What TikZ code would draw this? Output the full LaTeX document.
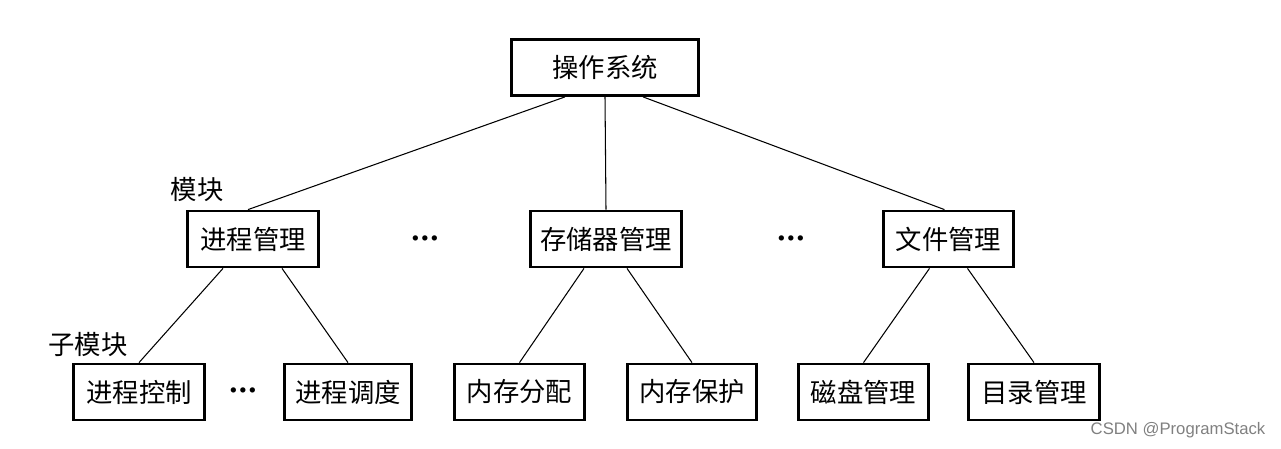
\documentclass[tikz,border=0pt]{standalone}
\usepackage{fontspec}
\setmainfont{Noto Sans CJK SC}
\newfontfamily\wmfont{Liberation Sans}
\usetikzlibrary{calc}

\begin{document}
\begin{tikzpicture}[x=0.02cm, y=-0.02cm,
    box/.style={draw, line width=1.6pt, minimum height=1.12cm, inner sep=0pt,
                font=\fontsize{15}{15}\selectfont},
    conn/.style={line width=0.6pt},
    tag/.style={font=\fontsize{15}{15}\selectfont},
    more/.style={font=\fontsize{7}{8}\selectfont}]
\useasboundingbox (0,0) rectangle (1281,449);

% top
\node[box, minimum width=3.74cm] (os) at (605,67.5) {操作系统};

% modules
\node[box, minimum width=2.62cm] (proc) at (253,239) {进程管理};
\node[box, minimum width=3.02cm] (mem) at (606,239) {存储器管理};
\node[box, minimum width=2.60cm] (file) at (948.5,239) {文件管理};
	\node[more] (dotsa) at (425,239) {${\bullet}\mkern3mu{\bullet}\mkern3mu{\bullet}$};
	\node[more] (dotsb) at (791,239) {${\bullet}\mkern3mu{\bullet}\mkern3mu{\bullet}$};
	\node[tag] (lmod) at (197,190) {模块};

% sub-modules
\node[box, minimum width=2.62cm] (pctl) at (139,392) {进程控制};
\node[box, minimum width=2.54cm] (psch) at (348,392) {进程调度};
\node[box, minimum width=2.60cm] (malloc) at (519.5,392) {内存分配};
\node[box, minimum width=2.58cm] (mprot) at (692,392) {内存保护};
\node[box, minimum width=2.60cm] (disk) at (863.5,392) {磁盘管理};
\node[box, minimum width=2.62cm] (dir) at (1034,392) {目录管理};
	\node[more] (dotsc) at (243,391) {${\bullet}\mkern3mu{\bullet}\mkern3mu{\bullet}$};
	\node[tag] (lsub) at (88,345) {子模块};

% connectors
\draw[conn] ($(os.south)+(-40,0)$) -- ($(proc.north)+(-5,0)$);
\draw[conn] (os.south) -- (mem.north);
\draw[conn] ($(os.south)+(38,0)$) -- ($(file.north)+(-4,0)$);

\draw[conn] ($(proc.south)+(-30,0)$) -- (pctl.north);
\draw[conn] ($(proc.south)+(29,0)$) -- (psch.north);
\draw[conn] ($(mem.south)+(-22,0)$) -- (malloc.north);
\draw[conn] ($(mem.south)+(21,0)$) -- (mprot.north);
\draw[conn] ($(file.south)+(-19,0)$) -- (disk.north);
\draw[conn] ($(file.south)+(19,0)$) -- (dir.north);

% watermark
\node[gray, font=\wmfont\fontsize{9.5}{10}\selectfont] (mark) at (1178,430) {CSDN @ProgramStack};
\end{tikzpicture}
\end{document}
